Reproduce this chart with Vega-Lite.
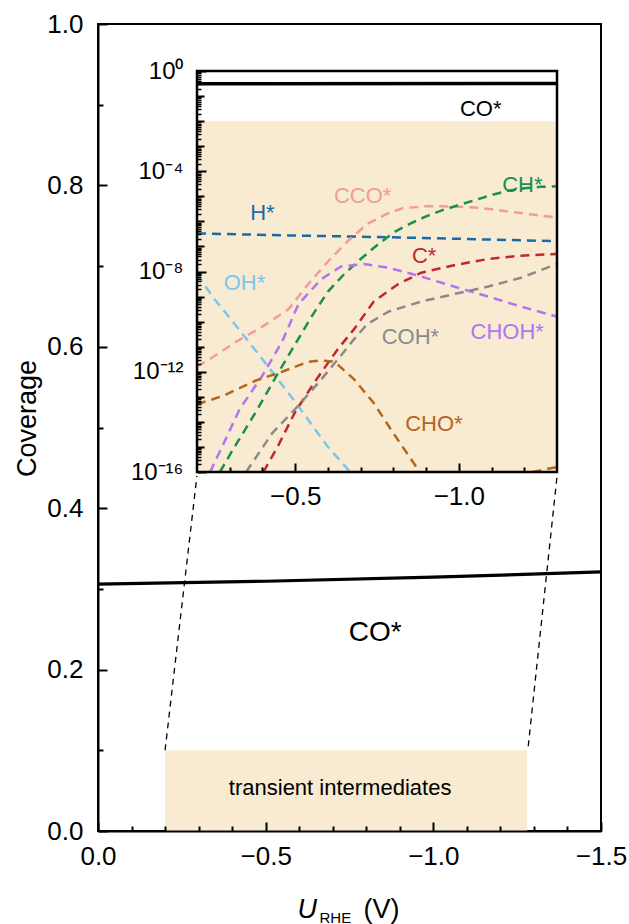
{
  "$schema": "https://vega.github.io/schema/vega-lite/v6.json",
  "width": 503,
  "height": 807,
  "autosize": {"type": "none"},
  "padding": {"left": 98, "top": 24, "right": 28, "bottom": 93},
  "background": "white",
  "config": {
    "font": "Liberation Sans",
    "view": {"stroke": "black", "strokeWidth": 2},
    "axis": {"domainColor": "black", "domainWidth": 2, "tickColor": "black", "tickWidth": 2, "labelColor": "black", "titleColor": "black", "labelFont": "Liberation Sans", "titleFont": "Liberation Sans", "grid": false, "titleFontWeight": "normal", "labelOverlap": false, "labelFlush": false},
    "text": {"font": "Liberation Sans"}
  },
  "datasets": {
    "box": [{"x1": -0.2, "x2": -1.28, "y1": 0, "y2": 0.1}],
    "note": [{"U": -0.722, "cov": 0.053, "label": "transient intermediates"}],
    "mainLabel": [{"U": -0.827, "cov": 0.245, "label": "CO*"}],
    "links": [
      {"x1": -0.2, "y1": 0.1, "x2": -0.295, "y2": 0.44},
      {"x1": -1.283, "y1": 0.105, "x2": -1.369, "y2": 0.44}
    ],
    "coMain": [
      {"U": 0, "cov": 0.306}, {"U": -0.5, "cov": 0.3095},
      {"U": -1.0, "cov": 0.3145}, {"U": -1.5, "cov": 0.321}
    ],
    "insetBox": [{"x1": -0.2, "x2": -1.3, "y1": 1e-16, "y2": 0.01}],
    "insetFrame": [{"x1": -0.2, "x2": -1.3, "y1": 1e-16, "y2": 1}],
    "coInset": [{"U": -0.2, "cov": 0.3074}, {"U": -1.3, "cov": 0.316}],
    "curves": [
      {"species": "H*", "seg": "a", "U": -0.2, "cov": 3.311e-7},
      {"species": "H*", "seg": "a", "U": -0.48, "cov": 2.754e-7},
      {"species": "H*", "seg": "a", "U": -0.78, "cov": 2.344e-7},
      {"species": "H*", "seg": "a", "U": -0.98, "cov": 2.042e-7},
      {"species": "H*", "seg": "a", "U": -1.3, "cov": 1.622e-7},

      {"species": "OH*", "seg": "a", "U": -0.2, "cov": 7.943e-9},
      {"species": "OH*", "seg": "a", "U": -0.25, "cov": 8.913e-10},
      {"species": "OH*", "seg": "a", "U": -0.3, "cov": 1.413e-10},
      {"species": "OH*", "seg": "a", "U": -0.4, "cov": 3.162e-12},
      {"species": "OH*", "seg": "a", "U": -0.5, "cov": 6.31e-14},
      {"species": "OH*", "seg": "a", "U": -0.6, "cov": 1e-15},
      {"species": "OH*", "seg": "a", "U": -0.668, "cov": 1e-16},

      {"species": "CCO*", "seg": "a", "U": -0.2, "cov": 1.585e-12},
      {"species": "CCO*", "seg": "a", "U": -0.25, "cov": 3.981e-12},
      {"species": "CCO*", "seg": "a", "U": -0.32, "cov": 1.585e-11},
      {"species": "CCO*", "seg": "a", "U": -0.4, "cov": 6.31e-11},
      {"species": "CCO*", "seg": "a", "U": -0.48, "cov": 3.162e-10},
      {"species": "CCO*", "seg": "a", "U": -0.54, "cov": 3.162e-9},
      {"species": "CCO*", "seg": "a", "U": -0.6, "cov": 2.512e-8},
      {"species": "CCO*", "seg": "a", "U": -0.66, "cov": 1.585e-7},
      {"species": "CCO*", "seg": "a", "U": -0.72, "cov": 7.943e-7},
      {"species": "CCO*", "seg": "a", "U": -0.78, "cov": 1.995e-6},
      {"species": "CCO*", "seg": "a", "U": -0.83, "cov": 3.388e-6},
      {"species": "CCO*", "seg": "a", "U": -0.9, "cov": 3.981e-6},
      {"species": "CCO*", "seg": "a", "U": -0.95, "cov": 3.981e-6},
      {"species": "CCO*", "seg": "a", "U": -1.0, "cov": 3.802e-6},
      {"species": "CCO*", "seg": "a", "U": -1.05, "cov": 3.548e-6},
      {"species": "CCO*", "seg": "a", "U": -1.1, "cov": 3.02e-6},
      {"species": "CCO*", "seg": "a", "U": -1.19, "cov": 2.138e-6},
      {"species": "CCO*", "seg": "a", "U": -1.3, "cov": 1.413e-6},

      {"species": "CH*", "seg": "a", "U": -0.27, "cov": 1e-16},
      {"species": "CH*", "seg": "a", "U": -0.31, "cov": 7.943e-16},
      {"species": "CH*", "seg": "a", "U": -0.38, "cov": 2.512e-14},
      {"species": "CH*", "seg": "a", "U": -0.45, "cov": 1e-12},
      {"species": "CH*", "seg": "a", "U": -0.5, "cov": 1.259e-11},
      {"species": "CH*", "seg": "a", "U": -0.55, "cov": 1.585e-10},
      {"species": "CH*", "seg": "a", "U": -0.6, "cov": 1.585e-9},
      {"species": "CH*", "seg": "a", "U": -0.65, "cov": 7.943e-9},
      {"species": "CH*", "seg": "a", "U": -0.7, "cov": 3.162e-8},
      {"species": "CH*", "seg": "a", "U": -0.75, "cov": 1.122e-7},
      {"species": "CH*", "seg": "a", "U": -0.8, "cov": 3.548e-7},
      {"species": "CH*", "seg": "a", "U": -0.85, "cov": 7.943e-7},
      {"species": "CH*", "seg": "a", "U": -0.9, "cov": 1.585e-6},
      {"species": "CH*", "seg": "a", "U": -0.95, "cov": 2.818e-6},
      {"species": "CH*", "seg": "a", "U": -1.0, "cov": 4.467e-6},
      {"species": "CH*", "seg": "a", "U": -1.05, "cov": 7.079e-6},
      {"species": "CH*", "seg": "a", "U": -1.1, "cov": 1.122e-5},
      {"species": "CH*", "seg": "a", "U": -1.15, "cov": 1.66e-5},
      {"species": "CH*", "seg": "a", "U": -1.2, "cov": 2.089e-5},
      {"species": "CH*", "seg": "a", "U": -1.25, "cov": 2.399e-5},
      {"species": "CH*", "seg": "a", "U": -1.3, "cov": 2.512e-5},

      {"species": "CHOH*", "seg": "a", "U": -0.24, "cov": 1e-16},
      {"species": "CHOH*", "seg": "a", "U": -0.28, "cov": 1.259e-15},
      {"species": "CHOH*", "seg": "a", "U": -0.33, "cov": 3.162e-14},
      {"species": "CHOH*", "seg": "a", "U": -0.4, "cov": 7.079e-13},
      {"species": "CHOH*", "seg": "a", "U": -0.46, "cov": 1.585e-11},
      {"species": "CHOH*", "seg": "a", "U": -0.51, "cov": 5.012e-10},
      {"species": "CHOH*", "seg": "a", "U": -0.58, "cov": 5.012e-9},
      {"species": "CHOH*", "seg": "a", "U": -0.64, "cov": 1.585e-8},
      {"species": "CHOH*", "seg": "a", "U": -0.71, "cov": 1.995e-8},
      {"species": "CHOH*", "seg": "a", "U": -0.785, "cov": 1.413e-8},
      {"species": "CHOH*", "seg": "a", "U": -0.885, "cov": 6.31e-9},
      {"species": "CHOH*", "seg": "a", "U": -0.985, "cov": 2.512e-9},
      {"species": "CHOH*", "seg": "a", "U": -1.09, "cov": 1e-9},
      {"species": "CHOH*", "seg": "a", "U": -1.19, "cov": 3.981e-10},
      {"species": "CHOH*", "seg": "a", "U": -1.3, "cov": 1.585e-10},

      {"species": "C*", "seg": "a", "U": -0.403, "cov": 1e-16},
      {"species": "C*", "seg": "a", "U": -0.45, "cov": 1.259e-15},
      {"species": "C*", "seg": "a", "U": -0.5, "cov": 2.512e-14},
      {"species": "C*", "seg": "a", "U": -0.56, "cov": 3.981e-13},
      {"species": "C*", "seg": "a", "U": -0.63, "cov": 7.943e-12},
      {"species": "C*", "seg": "a", "U": -0.68, "cov": 5.012e-11},
      {"species": "C*", "seg": "a", "U": -0.74, "cov": 6.31e-10},
      {"species": "C*", "seg": "a", "U": -0.815, "cov": 3.162e-9},
      {"species": "C*", "seg": "a", "U": -0.885, "cov": 8.913e-9},
      {"species": "C*", "seg": "a", "U": -0.985, "cov": 1.778e-8},
      {"species": "C*", "seg": "a", "U": -1.09, "cov": 3.162e-8},
      {"species": "C*", "seg": "a", "U": -1.19, "cov": 4.266e-8},
      {"species": "C*", "seg": "a", "U": -1.3, "cov": 5.012e-8},

      {"species": "COH*", "seg": "a", "U": -0.35, "cov": 1e-16},
      {"species": "COH*", "seg": "a", "U": -0.43, "cov": 3.548e-15},
      {"species": "COH*", "seg": "a", "U": -0.51, "cov": 4.467e-14},
      {"species": "COH*", "seg": "a", "U": -0.58, "cov": 5.012e-13},
      {"species": "COH*", "seg": "a", "U": -0.64, "cov": 4.467e-12},
      {"species": "COH*", "seg": "a", "U": -0.68, "cov": 1.995e-11},
      {"species": "COH*", "seg": "a", "U": -0.72, "cov": 7.943e-11},
      {"species": "COH*", "seg": "a", "U": -0.785, "cov": 2.512e-10},
      {"species": "COH*", "seg": "a", "U": -0.885, "cov": 6.31e-10},
      {"species": "COH*", "seg": "a", "U": -0.985, "cov": 1.259e-9},
      {"species": "COH*", "seg": "a", "U": -1.09, "cov": 2.512e-9},
      {"species": "COH*", "seg": "a", "U": -1.19, "cov": 5.623e-9},
      {"species": "COH*", "seg": "a", "U": -1.28, "cov": 1.585e-8},
      {"species": "COH*", "seg": "a", "U": -1.3, "cov": 1.995e-8},

      {"species": "CHO*", "seg": "a", "U": -0.2, "cov": 5.012e-14},
      {"species": "CHO*", "seg": "a", "U": -0.28, "cov": 1.096e-13},
      {"species": "CHO*", "seg": "a", "U": -0.38, "cov": 4.467e-13},
      {"species": "CHO*", "seg": "a", "U": -0.46, "cov": 1e-12},
      {"species": "CHO*", "seg": "a", "U": -0.54, "cov": 2.512e-12},
      {"species": "CHO*", "seg": "a", "U": -0.58, "cov": 2.818e-12},
      {"species": "CHO*", "seg": "a", "U": -0.62, "cov": 2.512e-12},
      {"species": "CHO*", "seg": "a", "U": -0.68, "cov": 5.012e-13},
      {"species": "CHO*", "seg": "a", "U": -0.74, "cov": 5.623e-14},
      {"species": "CHO*", "seg": "a", "U": -0.8, "cov": 3.548e-15},
      {"species": "CHO*", "seg": "a", "U": -0.865, "cov": 1.995e-16},
      {"species": "CHO*", "seg": "a", "U": -0.88, "cov": 1e-16},
      {"species": "CHO*", "seg": "b", "U": -1.225, "cov": 1e-16},
      {"species": "CHO*", "seg": "b", "U": -1.3, "cov": 1.585e-16}
    ],
    "labels": [
      {"species": "CO*", "U": -1.067, "cov": 0.0316},
      {"species": "CCO*", "U": -0.706, "cov": 1.05e-5},
      {"species": "CH*", "U": -1.194, "cov": 2.95e-5},
      {"species": "H*", "U": -0.4, "cov": 2.1e-6},
      {"species": "OH*", "U": -0.345, "cov": 3.5e-9},
      {"species": "C*", "U": -0.894, "cov": 4.3e-8},
      {"species": "COH*", "U": -0.852, "cov": 2.5e-11},
      {"species": "CHOH*", "U": -1.148, "cov": 4e-11},
      {"species": "CHO*", "U": -0.924, "cov": 8.1e-15}
    ]
  },
  "layer": [
    {
      "layer": [
        {
          "data": {"name": "box"},
          "mark": {"type": "rect", "color": "#f8ebd2"},
          "encoding": {
            "x": {"field": "x1", "type": "quantitative", "scale": {"domain": [0, -1.5], "nice": false, "zero": false},
              "axis": {"zindex": 2, "orient": "bottom", "values": [0, -0.5, -1, -1.5], "format": ".1f", "tickSize": -9, "labelFontSize": 26, "labelPadding": 21,
                "title": "U", "titleFontStyle": "italic", "titleFontSize": 27, "titleAlign": "left", "titleBaseline": "alphabetic", "titleX": 199, "titleY": 86}},
            "x2": {"field": "x2"},
            "y": {"field": "y1", "type": "quantitative", "scale": {"domain": [0, 1], "nice": false, "zero": false},
              "axis": {"zindex": 2, "orient": "left", "values": [0, 0.2, 0.4, 0.6, 0.8, 1.0], "format": ".1f", "tickSize": -9, "labelFontSize": 26, "labelPadding": 24,
                "title": "Coverage", "titleFontSize": 27, "titleAngle": 270, "titleAlign": "center", "titleBaseline": "alphabetic", "titleX": -63, "titleY": 394}},
            "y2": {"field": "y2"}
          }
        },
        {
          "data": {"name": "note"},
          "mark": {"type": "text", "fontSize": 22, "color": "black", "align": "center", "baseline": "middle"},
          "encoding": {
            "x": {"field": "U", "type": "quantitative", "scale": {"domain": [0, -1.5], "nice": false, "zero": false},
              "axis": {"zindex": 2, "orient": "bottom", "values": [-0.1, -0.2, -0.3, -0.4, -0.6, -0.7, -0.8, -0.9, -1.1, -1.2, -1.3, -1.4], "tickSize": -5, "labels": false, "domain": false, "title": null}},
            "y": {"field": "cov", "type": "quantitative", "scale": {"domain": [0, 1], "nice": false, "zero": false},
              "axis": {"zindex": 2, "orient": "left", "values": [0.1, 0.3, 0.5, 0.7, 0.9], "tickSize": -5, "labels": false, "domain": false, "title": null}},
            "text": {"field": "label"}
          }
        },
        {
          "data": {"name": "links"},
          "mark": {"type": "rule", "color": "black", "strokeWidth": 1.3, "strokeDash": [6, 5]},
          "encoding": {
            "x": {"field": "x1", "type": "quantitative", "scale": {"domain": [0, -1.5], "nice": false, "zero": false},
              "axis": {"orient": "bottom", "labels": false, "ticks": false, "domain": false, "title": "RHE", "titleFontSize": 15, "titleAlign": "left", "titleBaseline": "alphabetic", "titleX": 221, "titleY": 91}},
            "x2": {"field": "x2"},
            "y": {"field": "y1", "type": "quantitative", "scale": {"domain": [0, 1], "nice": false, "zero": false}, "axis": null},
            "y2": {"field": "y2"}
          }
        },
        {
          "data": {"name": "coMain"},
          "mark": {"type": "line", "color": "black", "strokeWidth": 3.2},
          "encoding": {
            "x": {"field": "U", "type": "quantitative", "scale": {"domain": [0, -1.5], "nice": false, "zero": false},
              "axis": {"orient": "bottom", "labels": false, "ticks": false, "domain": false, "title": "(V)", "titleFontSize": 27, "titleAlign": "left", "titleBaseline": "alphabetic", "titleX": 265, "titleY": 86}},
            "y": {"field": "cov", "type": "quantitative", "scale": {"domain": [0, 1], "nice": false, "zero": false}, "axis": null}
          }
        },
        {
          "data": {"name": "mainLabel"},
          "mark": {"type": "text", "fontSize": 28, "color": "black", "align": "center", "baseline": "middle"},
          "encoding": {
            "x": {"field": "U", "type": "quantitative", "scale": {"domain": [0, -1.5], "nice": false, "zero": false}, "axis": null},
            "y": {"field": "cov", "type": "quantitative", "scale": {"domain": [0, 1], "nice": false, "zero": false}, "axis": null},
            "text": {"field": "label"}
          }
        }
      ],
      "resolve": {"axis": {"x": "independent", "y": "independent"}}
    },
    {
      "layer": [
        {
          "data": {"name": "insetBox"},
          "mark": {"type": "rect", "color": "#f8ebd2"},
          "encoding": {
            "x": {"field": "x1", "type": "quantitative", "scale": {"domain": [-0.2, -1.3], "range": [99, 459], "nice": false, "zero": false},
              "axis": {"zindex": 2, "orient": "bottom", "offset": -359, "values": [-0.5, -1.0], "format": ".1f", "tickSize": -9, "labelFontSize": 26, "labelPadding": 20, "domain": false, "title": null}},
            "x2": {"field": "x2"},
            "y": {"field": "y1", "type": "quantitative", "scale": {"type": "log", "domain": [1e-16, 1], "range": [448, 47], "nice": false},
              "axis": {"zindex": 2, "orient": "left", "offset": -99, "values": [1, 1e-4, 1e-8, 1e-12, 1e-16], "tickSize": -9, "labelFontSize": 24, "labelPadding": 23, "domain": false, "title": null,
                "labelExpr": "datum.value >= 0.5 ? '10⁰' : datum.value > 5e-5 ? '10⁻⁴' : datum.value > 5e-9 ? '10⁻⁸' : datum.value > 5e-13 ? '10⁻¹²' : '10⁻¹⁶'"}},
            "y2": {"field": "y2"}
          }
        },
        {
          "data": {"name": "coInset"},
          "mark": {"type": "line", "color": "black", "strokeWidth": 3.5},
          "encoding": {
            "x": {"field": "U", "type": "quantitative", "scale": {"domain": [-0.2, -1.3], "range": [99, 459], "nice": false, "zero": false}, "axis": null},
            "y": {"field": "cov", "type": "quantitative", "scale": {"type": "log", "domain": [1e-16, 1], "range": [448, 47], "nice": false},
              "axis": {"zindex": 2, "orient": "left", "offset": -99, "tickSize": -4, "tickWidth": 1.5, "labels": false, "domain": false, "title": null,
                "values": [2e-16, 3e-16, 4e-16, 5e-16, 6e-16, 7e-16, 8e-16, 9e-16,
                           2e-15, 3e-15, 4e-15, 5e-15, 6e-15, 7e-15, 8e-15, 9e-15,
                           2e-14, 3e-14, 4e-14, 5e-14, 6e-14, 7e-14, 8e-14, 9e-14,
                           2e-13, 3e-13, 4e-13, 5e-13, 6e-13, 7e-13, 8e-13, 9e-13,
                           2e-12, 3e-12, 4e-12, 5e-12, 6e-12, 7e-12, 8e-12, 9e-12,
                           2e-11, 3e-11, 4e-11, 5e-11, 6e-11, 7e-11, 8e-11, 9e-11,
                           2e-10, 3e-10, 4e-10, 5e-10, 6e-10, 7e-10, 8e-10, 9e-10,
                           2e-9, 3e-9, 4e-9, 5e-9, 6e-9, 7e-9, 8e-9, 9e-9,
                           2e-8, 3e-8, 4e-8, 5e-8, 6e-8, 7e-8, 8e-8, 9e-8,
                           2e-7, 3e-7, 4e-7, 5e-7, 6e-7, 7e-7, 8e-7, 9e-7,
                           2e-6, 3e-6, 4e-6, 5e-6, 6e-6, 7e-6, 8e-6, 9e-6,
                           2e-5, 3e-5, 4e-5, 5e-5, 6e-5, 7e-5, 8e-5, 9e-5,
                           2e-4, 3e-4, 4e-4, 5e-4, 6e-4, 7e-4, 8e-4, 9e-4,
                           0.002, 0.003, 0.004, 0.005, 0.006, 0.007, 0.008, 0.009,
                           0.02, 0.03, 0.04, 0.05, 0.06, 0.07, 0.08, 0.09,
                           0.2, 0.3, 0.4, 0.5, 0.6, 0.7, 0.8, 0.9]}}
          }
        },
        {
          "data": {"name": "curves"},
          "mark": {"type": "line", "strokeWidth": 2.5, "strokeDash": [9, 6]},
          "encoding": {
            "x": {"field": "U", "type": "quantitative", "scale": {"domain": [-0.2, -1.3], "range": [99, 459], "nice": false, "zero": false},
              "axis": {"zindex": 2, "orient": "bottom", "offset": -359, "values": [-0.3, -0.4, -0.6, -0.7, -0.8, -0.9, -1.1, -1.2], "tickSize": -5, "labels": false, "domain": false, "title": null}},
            "y": {"field": "cov", "type": "quantitative", "scale": {"type": "log", "domain": [1e-16, 1], "range": [448, 47], "nice": false},
              "axis": {"zindex": 2, "orient": "left", "offset": -99, "values": [0.1, 0.01, 0.001, 1e-5, 1e-6, 1e-7, 1e-9, 1e-10, 1e-11, 1e-13, 1e-14, 1e-15], "tickSize": -7, "labels": false, "domain": false, "title": null}},
            "color": {"field": "species", "type": "nominal",
              "scale": {"domain": ["CO*", "H*", "OH*", "CCO*", "CH*", "C*", "CHOH*", "COH*", "CHO*"],
                        "range": ["#000000", "#1a6aa8", "#7cc6ec", "#f29b9b", "#1b8f4e", "#c3262d", "#b274f0", "#8a8a8a", "#b5651d"]},
              "legend": null},
            "detail": {"field": "seg"}
          }
        },
        {
          "data": {"name": "labels"},
          "mark": {"type": "text", "fontSize": 22, "align": "center", "baseline": "middle"},
          "encoding": {
            "x": {"field": "U", "type": "quantitative", "scale": {"domain": [-0.2, -1.3], "range": [99, 459], "nice": false, "zero": false}, "axis": null},
            "y": {"field": "cov", "type": "quantitative", "scale": {"type": "log", "domain": [1e-16, 1], "range": [448, 47], "nice": false}, "axis": null},
            "color": {"field": "species", "type": "nominal",
              "scale": {"domain": ["CO*", "H*", "OH*", "CCO*", "CH*", "C*", "CHOH*", "COH*", "CHO*"],
                        "range": ["#000000", "#1a6aa8", "#7cc6ec", "#f29b9b", "#1b8f4e", "#c3262d", "#b274f0", "#8a8a8a", "#b5651d"]},
              "legend": null},
            "text": {"field": "species"}
          }
        },
        {
          "data": {"name": "insetFrame"},
          "mark": {"type": "rect", "filled": false, "color": "black", "strokeWidth": 2.5},
          "encoding": {
            "x": {"field": "x1", "type": "quantitative", "scale": {"domain": [-0.2, -1.3], "range": [99, 459], "nice": false, "zero": false}, "axis": null},
            "x2": {"field": "x2"},
            "y": {"field": "y1", "type": "quantitative", "scale": {"type": "log", "domain": [1e-16, 1], "range": [448, 47], "nice": false}, "axis": null},
            "y2": {"field": "y2"}
          }
        }
      ],
      "resolve": {"axis": {"x": "independent", "y": "independent"}}
    }
  ],
  "resolve": {"scale": {"x": "independent", "y": "independent"}, "axis": {"x": "independent", "y": "independent"}}
}
